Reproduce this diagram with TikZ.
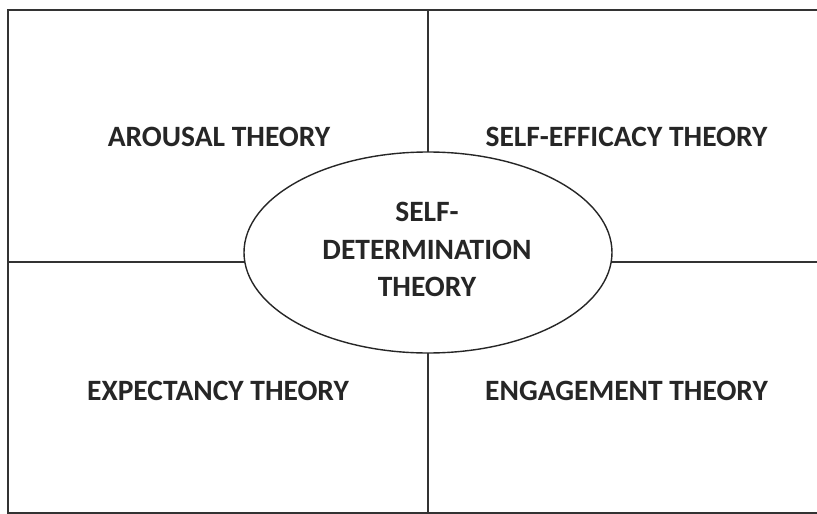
\documentclass[tikz,border=0pt]{standalone}
\usepackage{fontspec}
\setmainfont{Carlito}
\usetikzlibrary{shapes.geometric}
\begin{document}
\begin{tikzpicture}[x=1pt,y=-1pt,
  frame/.style={line width=2pt,draw=black!80},
  label/.style={font=\fontsize{29.5}{37.5}\selectfont\bfseries,text=black!85,inner sep=0pt,align=center},
  hub/.style={ellipse,draw=black!85,line width=1.4pt,fill=white,minimum width=368pt,minimum height=201pt,inner sep=0pt}]
  \useasboundingbox (0,0) rectangle (817,514);
  % outer frame (open on the right)
  \draw[frame] (817,10) -- (8,10) -- (8,512.5) -- (817,512.5);
  % quadrant dividers
  \coordinate (top) at (428,10);
  \coordinate (bottom) at (428,512.5);
  \coordinate (left) at (8,262);
  \coordinate (right) at (817,262);
  \draw[frame] (top) -- (bottom);
  \draw[frame] (left) -- (right);
  % central theory
  \node[hub] (sdt) at (428,252.5) {};
  \node[label] (sdtlabel) at (427,249.5) {SELF-\\DETERMINATION\\THEORY};
  % quadrant labels
  \node[label] (arousal) at (219,137) {AROUSAL THEORY};
  \node[label] (efficacy) at (626.5,137) {SELF-EFFICACY THEORY};
  \node[label] (expectancy) at (218,391) {EXPECTANCY THEORY};
  \node[label] (engagement) at (626.5,391) {ENGAGEMENT THEORY};
\end{tikzpicture}
\end{document}
